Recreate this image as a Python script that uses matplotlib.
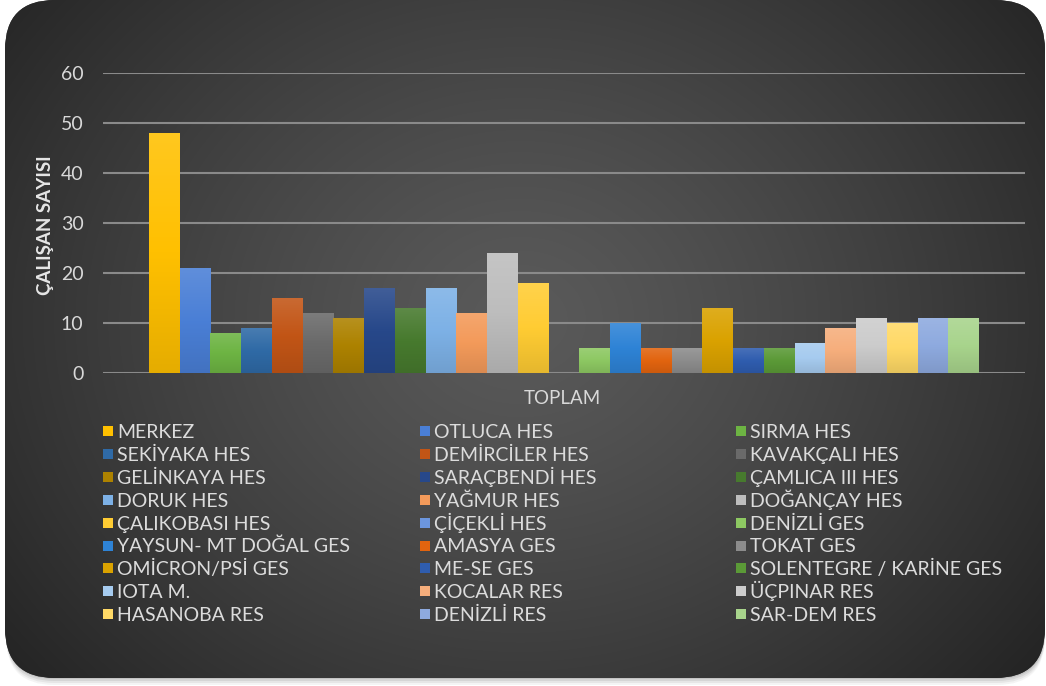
import numpy as np
import matplotlib
matplotlib.use("Agg")
import matplotlib.pyplot as plt
from matplotlib.patches import FancyBboxPatch, Rectangle
from matplotlib.colors import LinearSegmentedColormap, to_rgb

plt.rcParams['font.family'] = ['Lato', 'DejaVu Sans']

# ---- data -------------------------------------------------------------
category = "TOPLAM"
sites = [
    "MERKEZ", "OTLUCA HES", "SIRMA HES",
    "SEKİYAKA HES", "DEMİRCİLER HES", "KAVAKÇALI HES",
    "GELİNKAYA HES", "SARAÇBENDİ HES", "ÇAMLICA III HES",
    "DORUK HES", "YAĞMUR HES", "DOĞANÇAY HES",
    "ÇALIKOBASI HES", "ÇİÇEKLİ HES", "DENİZLİ GES",
    "YAYSUN- MT DOĞAL GES", "AMASYA GES", "TOKAT GES",
    "OMİCRON/PSİ GES", "ME-SE GES", "SOLENTEGRE / KARİNE GES",
    "IOTA M.", "KOCALAR RES", "ÜÇPINAR RES",
    "HASANOBA RES", "DENİZLİ RES", "SAR-DEM RES",
]
employees = [48, 21, 8, 9, 15, 12, 11, 17, 13, 17, 12, 24, 18, 0,
             5, 10, 5, 5, 13, 5, 5, 6, 9, 11, 10, 11, 11]
colors = [
    "#FFC000", "#4A7FD6", "#6DB443",
    "#2F6AA6", "#C25516", "#6A6A6A",
    "#AD8200", "#27488A", "#477A2E",
    "#7DB1E6", "#F39A5A", "#BDBDBD",
    "#FFCC33", "#6C96DE", "#8DC862",
    "#2E83D6", "#E2640F", "#8C8C8C",
    "#DAA200", "#2F5DAF", "#5B9A37",
    "#A6CBEF", "#F6AE7C", "#CCCCCC",
    "#FFD966", "#8EAADF", "#A8D48C",
]
y_ticks = [0, 10, 20, 30, 40, 50, 60]
y_label = "ÇALIŞAN SAYISI"

W, H = 1046, 686
fig = plt.figure(figsize=(W / 100, H / 100), dpi=100, facecolor="white")

# ---- rounded dark panel with radial shading ---------------------------
bg = fig.add_axes([0, 0, 1, 1], zorder=0)
bg.set_xlim(0, W)
bg.set_ylim(H, 0)
bg.axis("off")

for off, a in [(8, 0.10), (6, 0.15), (4, 0.22), (2, 0.30)]:
    bg.add_patch(FancyBboxPatch((6, off), W - 7, 677, boxstyle="round,pad=0,rounding_size=48",
                                facecolor="#9a9a9a", edgecolor="none", alpha=a, zorder=0.5))

panel = FancyBboxPatch((5, 0), W - 6, 678, boxstyle="round,pad=0,rounding_size=50",
                       facecolor="#303030", edgecolor="none", zorder=1)
bg.add_patch(panel)
yy, xx = np.mgrid[0:H, 0:W]
d = np.hypot((xx - 520) / 1.0, (yy - 320) / 0.85)
shade = np.clip(90 - 52 * (d / 640) ** 1.25, 36, 92) / 255.0
img = bg.imshow(np.dstack([shade] * 3), extent=[0, W, H, 0], zorder=1.1,
                interpolation="bilinear")
img.set_clip_path(panel)
bg.set_xlim(0, W)
bg.set_ylim(H, 0)

# ---- bars ------------------------------------------------------------
left, right, top, bottom = 103, 1025, 73, 373
ax = fig.add_axes([left / W, 1 - bottom / H, (right - left) / W, (bottom - top) / H], zorder=2)
ax.set_facecolor("none")

n = len(sites)
group = 1.0
bw = group / n
xs = -group / 2 + bw * (np.arange(n) + 0.5)
half = group * (right - left) / (2 * 830)

bars = ax.bar(xs, employees, width=bw, color=colors, edgecolor="none", zorder=2)


def mix(c, t, amt):
    c = np.array(to_rgb(c))
    return tuple(c + (np.array(t) - c) * amt)


for rect, col in zip(bars, colors):
    h = rect.get_height()
    if h <= 0:
        continue
    x0 = rect.get_x()
    cmap = LinearSegmentedColormap.from_list("g", [mix(col, (0, 0, 0), 0.10), col,
                                                   mix(col, (1, 1, 1), 0.12)])
    grad = np.linspace(0, 1, 100).reshape(-1, 1)
    im = ax.imshow(grad, extent=[x0, x0 + rect.get_width(), 0, h], origin="lower",
                   aspect="auto", cmap=cmap, zorder=2.1, interpolation="bilinear")
    im.set_clip_path(rect)

ax.set_xlim(-half, half)
ax.set_ylim(0, 60)
ax.set_yticks(y_ticks)
ax.set_xticks([])
ax.tick_params(axis="y", length=0, pad=14, labelcolor="#d9d9d9", labelsize=14)
ax.yaxis.grid(True, color="#8a8a8a", linewidth=1.5, zorder=0.5)
ax.set_axisbelow(True)
for s in ax.spines.values():
    s.set_visible(False)

fig.text(45 / W, 1 - 225 / H, y_label, rotation=90, ha="center", va="center",
         fontsize=13.5, fontweight="bold", color="#e6e6e6")
fig.text(562 / W, 1 - 399 / H, category, ha="center", va="center",
         fontsize=13.5, color="#d9d9d9")

# ---- legend, three columns filled row by row --------------------------
col_x = [103, 420, 736]
row_y0, row_dy = 431, 22.9
for i, (name, col) in enumerate(zip(sites, colors)):
    r, c = divmod(i, 3)
    yc = row_y0 + r * row_dy
    bg.add_patch(Rectangle((col_x[c], yc - 5), 10, 10, facecolor=col,
                           edgecolor="none", zorder=3))
    bg.text(col_x[c] + 14, yc + 7, name, ha="left", va="baseline", fontsize=14,
            color="#dcdcdc", zorder=3)

fig.savefig("out.png", dpi=100, facecolor="white")
